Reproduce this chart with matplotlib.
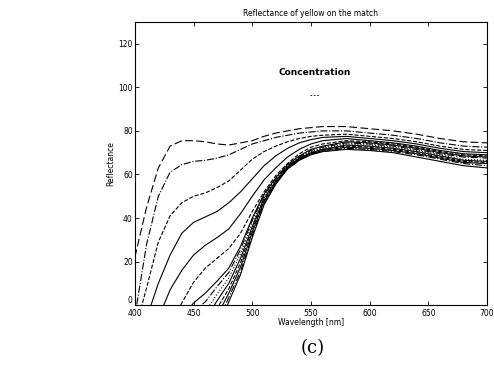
import matplotlib

matplotlib.use("Agg")
import matplotlib.pyplot as plt

plt.rcParams["font.family"] = ["DejaVu Sans"]

WAVELENGTH = [400, 410, 420, 430, 440, 450, 460, 470, 480, 490, 500, 510,
              520, 530, 540, 550, 560, 580, 600, 620, 640, 660, 680, 700]

C1 = [22, 45, 63, 73, 75.5, 75.5, 75, 74, 73.5, 74.5, 75.5, 77.5, 79, 80, 81, 81.5, 82, 82, 81, 80, 78.5, 76.5, 75, 74.5]
C2 = [-5, 28, 50, 61, 64.5, 66, 66.5, 67.5, 69, 71.5, 74, 75.5, 77, 78, 79, 79.5, 80, 80, 79, 78, 76.5, 74.5, 73, 72.5]
C3 = [-12, 8, 29, 41, 47, 50, 51.5, 54, 57, 62, 67, 70.5, 73, 75, 76.5, 77.5, 78, 78.5, 77.5, 76.5, 75, 73, 71.5, 71]
C4 = [-25, -6, 10, 23, 33, 38, 40.5, 43, 47, 52, 58, 64, 68.5, 72, 74.5, 76, 77, 77.5, 76.5, 75.5, 74, 72, 70.5, 70]
C5 = [-35, -22, -6, 7, 16, 23, 27.5, 31, 35, 42, 50, 57.5, 63, 68, 71.5, 74, 75.5, 76.5, 75.5, 74.5, 73, 71, 69.5, 69]
C6 = [-45, -33, -20, -9, 1, 10.5, 17, 21.5, 26, 33, 43, 52, 59.5, 65, 69.5, 72.5, 74, 75.5, 75, 74, 72.5, 70.5, 69, 68.5]
C7 = [-55, -42, -30, -18, -6, 1, 5.5, 11, 17, 27, 40, 51, 58.5, 64.5, 68.5, 71.5, 73, 75, 74.5, 73.5, 72, 70, 68.5, 68]
C8 = [-60, -48, -35, -22, -10, -3, 1.5, 8.5, 15, 25.5, 39, 50.5, 58, 64, 68, 71, 72.5, 74.5, 74, 73, 71.5, 69.5, 68, 67.5]
C9 = [-65, -52, -40, -27, -15, -8, -3, 5, 12.5, 23.5, 37.5, 50, 57.5, 63.5, 67.5, 70.5, 72, 74, 73.5, 72.5, 71, 69, 67, 66.5]
C10 = [-70, -58, -45, -32, -20, -12, -7, 2, 10, 21.5, 36, 49, 57, 63.5, 67.5, 70, 71.5, 73.5, 73, 72, 70.5, 68.5, 66.5, 66]
C11 = [-75, -62, -50, -37, -25, -18, -12, -1.5, 7.5, 19.5, 35, 48, 56.5, 63, 67, 70, 71.5, 73, 72.5, 71.5, 70, 68, 66, 65.5]
C12 = [-80, -67, -55, -42, -30, -22, -17, -5, 5.5, 17.5, 33.5, 47.5, 56, 63, 67, 69.5, 71, 72.5, 72, 71, 69.5, 67.5, 65.5, 65]
C13 = [-85, -72, -60, -47, -35, -27, -21, -8.5, 3.5, 15.5, 32, 46.5, 56, 62.5, 66.5, 69.5, 70.5, 72, 71.5, 70.5, 69, 67, 65, 64]
C14 = [-90, -77, -65, -52, -40, -32, -25, -12, 1.5, 14, 31, 46, 55.5, 62.5, 66.5, 69, 70.5, 71.5, 71, 70, 68, 66, 64, 63]

CURVES = [C1, C2, C3, C4, C5, C6, C7, C8, C9, C10, C11, C12, C13, C14]
STYLES = [(0, (7, 3)), "-.", "--", "-", "-", "--", "-", "-.", ":", "-", "--", "-", "-.", "-"]

X_TICKS = [400, 450, 500, 550, 600, 650, 700]
Y_TICKS = [0, 20, 40, 60, 80, 100, 120]

fig = plt.figure(figsize=(4.94, 3.73), dpi=100)
ax = fig.add_axes([0.273, 0.182, 0.713, 0.759])

for values, ls in zip(CURVES, STYLES):
    ax.plot(WAVELENGTH, values, color="black", lw=0.8, ls=ls)

ax.text(553, 107, "Concentration", ha="center", va="center", fontsize=6.5, fontweight="bold")
ax.plot([549, 558], [96.5, 96.5], color="black", lw=0.6, ls=(0, (2, 2)))

ax.set_xlim(400, 700)
ax.set_ylim(0, 130)
ax.set_xticks(X_TICKS)
ax.set_yticks(Y_TICKS)
ax.tick_params(direction="in", length=3, width=0.6, labelsize=5.5, top=True, right=True, pad=1.5)
ax.tick_params(axis="x", pad=2.5)
ax.get_yticklabels()[0].set_va("bottom")
for spine in ax.spines.values():
    spine.set_linewidth(0.8)

ax.set_xlabel("Wavelength [nm]", fontsize=5.5, labelpad=0.5)
ax.set_ylabel("Reflectance", fontsize=5.5, labelpad=2)
ax.set_title("Reflectance of yellow on the match", fontsize=5.5, pad=4)

fig.text(313 / 494, 1 - 348 / 373, "(c)", ha="center", va="center", fontsize=13, family="DejaVu Serif")

fig.savefig("out.png", dpi=100)
plt.close(fig)
